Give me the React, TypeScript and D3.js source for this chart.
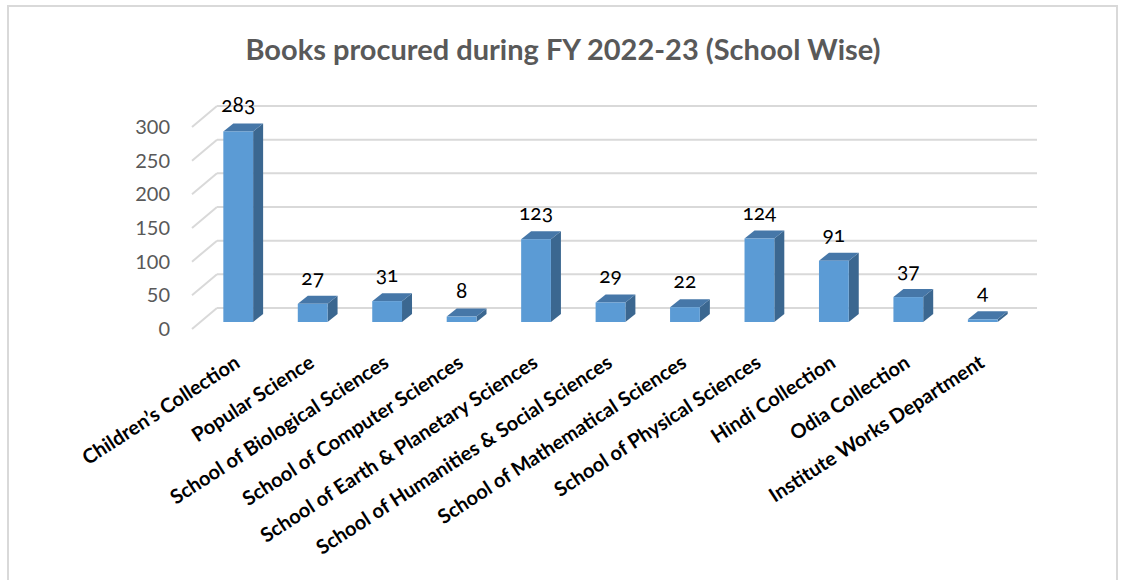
import React from 'react'
import * as d3 from 'd3'

const categories = [
  'Children’s Collection',
  'Popular Science',
  'School of Biological Sciences',
  'School of Computer Sciences',
  'School of Earth & Planetary Sciences',
  'School of Humanities & Social Sciences',
  'School of Mathematical Sciences',
  'School of Physical Sciences',
  'Hindi Collection',
  'Odia Collection',
  'Institute Works Department',
]
const booksProcured = [283, 27, 31, 8, 123, 29, 22, 124, 91, 37, 4]
const yTicks = [0, 50, 100, 150, 200, 250, 300]
const chartTitle = 'Books procured during FY 2022-23 (School Wise)'

const W = 1124
const H = 580
// offsets of the fake 3d: back wall vs front of the side wall, and bar depth
const wallDx = 25
const wallDy = 21
const barDx = 10
const barDy = 8
const frontFont = 'Lato, "Open Sans", sans-serif'

export default function App() {
  const yBack = d3.scaleLinear().domain([0, 300]).range([308, 106])
  const x = d3.scaleBand<string>()
    .domain(categories)
    .range([201, 1020])
    .paddingInner(0.6)
    .paddingOuter(0.3)
  const bw = x.bandwidth()
  // bars sit a bit in front of the back wall
  const barFront = (v: number) => yBack(v) + 14

  return (
    <svg width={W} height={H} style={{ position: 'absolute', left: 0, top: 0, background: '#fff' }}>
      <rect x={8} y={6} width={1109} height={620} fill="#fff" stroke="#d9d9d9" strokeWidth={2} />
      <text x={563} y={60} textAnchor="middle" fontFamily={frontFont} fontWeight={700}
        fontSize={29} fill="#595959">{chartTitle}</text>

      {/* back wall gridlines + side wall diagonals */}
      {yTicks.map(t => (
        <g key={t}>
          <line x1={192 + wallDx} x2={1037} y1={yBack(t)} y2={yBack(t)} stroke="#d9d9d9" strokeWidth={2} />
          <line x1={192} y1={yBack(t) + wallDy} x2={192 + wallDx} y2={yBack(t)} stroke="#d9d9d9" strokeWidth={2} />
          <text x={170} y={yBack(t) + wallDy} dy="0.35em" textAnchor="end" fontFamily={frontFont}
            fontSize={20} fill="#595959">{t}</text>
        </g>
      ))}

      {booksProcured.map((v, i) => {
        const x0 = x(categories[i]) as number
        const x1 = x0 + bw
        const top = barFront(v)
        const bottom = barFront(0)
        const cx = x0 + bw / 2
        return (
          <g key={categories[i]}>
            <polygon points={`${x1},${top} ${x1 + barDx},${top - barDy} ${x1 + barDx},${bottom - barDy} ${x1},${bottom}`}
              fill="#3b6790" />
            <polygon points={`${x0},${top} ${x0 + barDx},${top - barDy} ${x1 + barDx},${top - barDy} ${x1},${top}`}
              fill="#4677a8" />
            <rect x={x0} y={top} width={bw} height={bottom - top} fill="#5b9bd5" />
            <text x={cx} y={top - barDy - 11} textAnchor="middle" fontFamily={frontFont}
              fontSize={21} fill="#000" style={{ fontVariantNumeric: 'oldstyle-nums' }}>{v}</text>
          </g>
        )
      })}

      {categories.map(c => {
        const cx = (x(c) as number) + bw / 2 + 3
        return (
          <text key={c} transform={`translate(${cx},366) rotate(-33)`} textAnchor="end"
            fontFamily={frontFont} fontWeight={700} fontSize={20} fill="#000">{c}</text>
        )
      })}
    </svg>
  )
}
